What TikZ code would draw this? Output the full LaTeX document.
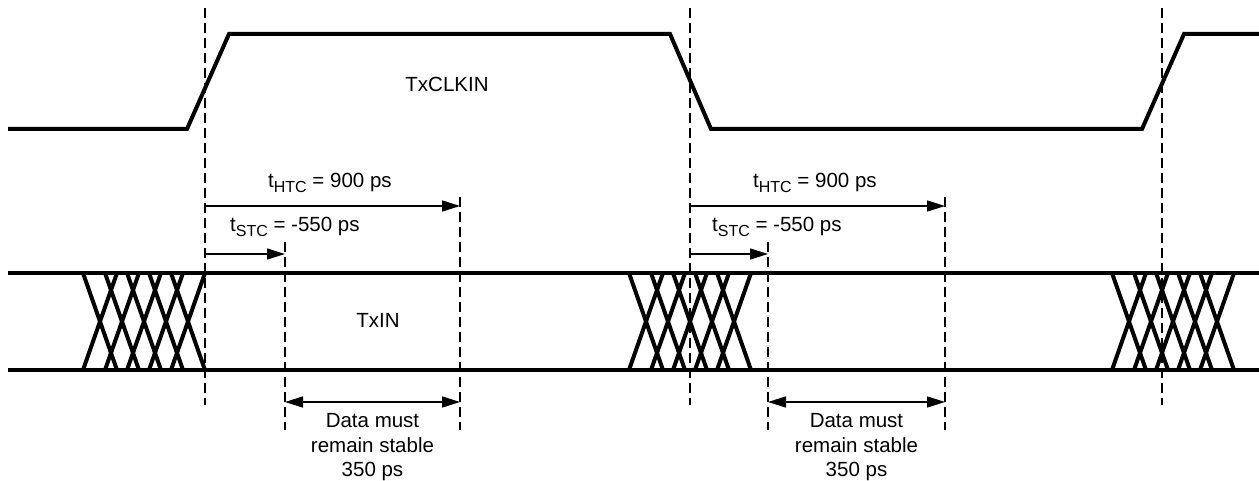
\documentclass[tikz,border=0pt]{standalone}
\usepackage{fontspec}
\setmainfont{Liberation Sans}
\usetikzlibrary{arrows.meta}
\newcommand{\lowsub}[1]{\raisebox{-4.5pt}{\fontsize{16}{16}\selectfont #1}}
\begin{document}
\begin{tikzpicture}[x=1pt,y=-1pt,
  sig/.style={line width=4pt, line join=miter},
  guide/.style={line width=1.8pt, dash pattern=on 10pt off 5pt},
  meas/.style={line width=1.5pt, -{Triangle[length=18pt,width=11pt]}},
  dmeas/.style={line width=1.5pt, {Triangle[length=18pt,width=11pt]}-{Triangle[length=18pt,width=11pt]}},
  lbl/.style={font=\fontsize{20.5}{24.5}\selectfont, inner sep=0pt},
]
\useasboundingbox (0,0) rectangle (1259,481);

% clock waveform
\draw[sig] (8,129) -- (187,129) -- (229,34) -- (670,34) -- (711,129) -- (1142,129) -- (1184,34) -- (1259,34);

% data lines
\draw[sig] (8,273) -- (1259,273);
\draw[sig] (8,370) -- (1259,370);

% crossings
\foreach \c in {100,122,144,166,188,646,668,690,712,734,1129,1151,1173,1195,1217}{
  \draw[sig] (\c-17,273) -- (\c+17,370);
  \draw[sig] (\c-17,370) -- (\c+17,273);
}

% guide coordinates
\coordinate (g1t) at (205,8);   \coordinate (g1b) at (205,405);
\coordinate (g2t) at (690,8);   \coordinate (g2b) at (690,405);
\coordinate (g3t) at (1162,8);  \coordinate (g3b) at (1162,405);
\coordinate (s1t) at (285,242); \coordinate (s1b) at (285,430);
\coordinate (h1t) at (460,197); \coordinate (h1b) at (460,430);
\coordinate (s2t) at (768,242); \coordinate (s2b) at (768,430);
\coordinate (h2t) at (945,197); \coordinate (h2b) at (945,430);

\draw[guide] (g1t) -- (g1b);
\draw[guide] (g2t) -- (g2b);
\draw[guide] (g3t) -- (g3b);
\draw[guide] (s1t) -- (s1b);
\draw[guide] (h1t) -- (h1b);
\draw[guide] (s2t) -- (s2b);
\draw[guide] (h2t) -- (h2b);

% measurement arrows
\coordinate (a1h) at (205,206); \coordinate (b1h) at (460,206);
\coordinate (a1s) at (205,254); \coordinate (b1s) at (285,254);
\coordinate (a1d) at (285,402); \coordinate (b1d) at (460,402);
\coordinate (a2h) at (690,206); \coordinate (b2h) at (945,206);
\coordinate (a2s) at (690,254); \coordinate (b2s) at (768,254);
\coordinate (a2d) at (768,402); \coordinate (b2d) at (945,402);

\draw[meas] (a1h) -- (b1h);
\draw[meas] (a1s) -- (b1s);
\draw[dmeas] (a1d) -- (b1d);
\draw[meas] (a2h) -- (b2h);
\draw[meas] (a2s) -- (b2s);
\draw[dmeas] (a2d) -- (b2d);

% labels
\node[lbl, anchor=base] (clk) at (447,92) {TxCLKIN};
\node[lbl] (txin) at (378,320) {TxIN};
\node[lbl, anchor=base west] (htc1) at (268,188) {t\lowsub{HTC} = 900 ps};
\node[lbl, anchor=base west] (stc1) at (230,232) {t\lowsub{STC} = -550 ps};
\node[lbl, anchor=base west] (htc2) at (753,188) {t\lowsub{HTC} = 900 ps};
\node[lbl, anchor=base west] (stc2) at (712,232) {t\lowsub{STC} = -550 ps};
\node[lbl, align=center, anchor=north] (dm1) at (372.5,413.5) {Data must\\remain stable\\350 ps};
\node[lbl, align=center, anchor=north] (dm2) at (856.5,413.5) {Data must\\remain stable\\350 ps};
\end{tikzpicture}
\end{document}
